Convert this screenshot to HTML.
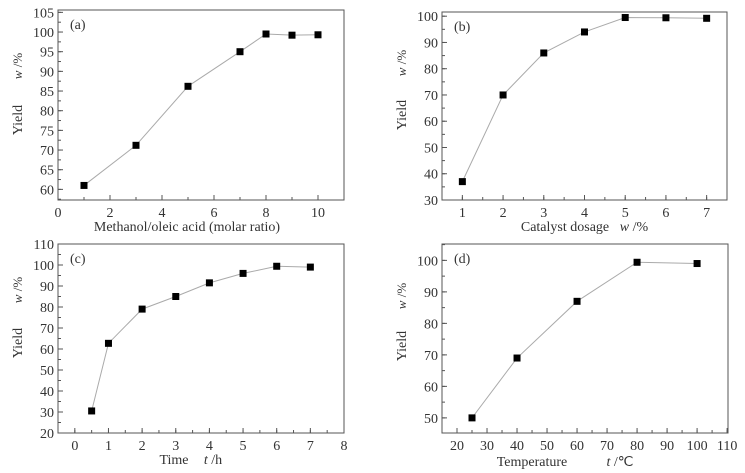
<!DOCTYPE html>
<html><head><meta charset="utf-8"><style>
body{margin:0;background:#fff}
svg{display:block}
text{font-family:"Liberation Serif","Times New Roman",serif}
</style></head><body>
<svg id="c" width="745" height="473" viewBox="0 0 745 473" xmlns="http://www.w3.org/2000/svg"></svg>
<script>
const aX=[1,3,5,7,8,9,10];
const aY=[61,71.2,86.2,95,99.5,99.2,99.3];
const bX=[1,2,3,4,5,6,7];
const bY=[37,70,86,94,99.5,99.4,99.2];
const cX=[0.5,1,2,3,4,5,6,7];
const cY=[30.5,62.7,79,85,91.5,96,99.4,99];
const dX=[25,40,60,80,100];
const dY=[50,69,87,99.4,99];
const aXTicks=[0,2,4,6,8,10], aYTicks=[60,65,70,75,80,85,90,95,100,105];
const bXTicks=[1,2,3,4,5,6,7], bYTicks=[30,40,50,60,70,80,90,100];
const cXTicks=[0,1,2,3,4,5,6,7,8], cYTicks=[20,30,40,50,60,70,80,90,100,110];
const dXTicks=[20,30,40,50,60,70,80,90,100,110], dYTicks=[50,60,70,80,90,100];

const svg=document.getElementById('c');
const NS='http://www.w3.org/2000/svg';
const FF='Liberation Serif, serif';
function mk(tag,attrs,parent){const e=document.createElementNS(NS,tag);for(const k in attrs)e.setAttribute(k,attrs[k]);if(tag==='text')e.setAttribute('font-family',FF);(parent||svg).appendChild(e);return e;}

const panels=[
 {id:'a',L:58,R:344,T:10,B:200,x0:0,x1:11,y0:57.3,y1:105.6,xs:aX,ys:aY,xt:aXTicks,yt:aYTicks,xm:1,ym:2.5,title:'Methanol/oleic acid (molar ratio)',tx:187,ty:231,lbl:'(a)',yl:[17,120],wl:[17,66]},
 {id:'b',L:442,R:727,T:12,B:200,x0:0.5,x1:7.5,y0:30,y1:101.6,xs:bX,ys:bY,xt:bXTicks,yt:bYTicks,xm:0.5,ym:5,title:'Catalyst dosage',tx:565,ty:231,lbl:'(b)',yl:[401,115],wl:[401,63],unit:['w',' /%',634]},
 {id:'c',L:58,R:344,T:244,B:433,x0:-0.5,x1:8,y0:20,y1:110,xs:cX,ys:cY,xt:cXTicks,yt:cYTicks,xm:0.5,ym:5,title:'Time',tx:174,ty:464,lbl:'(c)',yl:[17,343],wl:[17,290],unit:['t',' /h',213]},
 {id:'d',L:442,R:728,T:244,B:433,x0:15,x1:110.3,y0:45.2,y1:105.2,xs:dX,ys:dY,xt:dXTicks,yt:dYTicks,xm:5,ym:5,title:'Temperature',tx:532,ty:466,lbl:'(d)',yl:[401,346],wl:[401,296],unit:['t',' /℃',620]}
];

panels.forEach(p=>{
 const g=mk('g',{});
 
 
 const sx=v=>p.L+(v-p.x0)/(p.x1-p.x0)*(p.R-p.L);
 const sy=v=>p.B-(v-p.y0)/(p.y1-p.y0)*(p.B-p.T);
 const box=mk('rect',{x:p.L,y:p.T,width:p.R-p.L,height:p.B-p.T,fill:'none',stroke:'#555','stroke-width':1},g);
 
 
 for(let v=Math.ceil(p.x0/p.xm)*p.xm; v<=p.x1+1e-9; v+=p.xm){const x=sx(v);mk('line',{x1:x,x2:x,y1:p.B,y2:p.B-3,stroke:'#555'},g);}
 for(let v=Math.ceil(p.y0/p.ym)*p.ym; v<=p.y1+1e-9; v+=p.ym){const y=sy(v);mk('line',{x1:p.L,x2:p.L+3,y1:y,y2:y,stroke:'#555'},g);}
 p.xt.forEach(v=>{const x=sx(v);mk('line',{x1:x,x2:x,y1:p.B,y2:p.B-5,stroke:'#555'},g);
  const t=mk('text',{x:x,y:p.B+17,'text-anchor':'middle','font-size':14,fill:'#333'},g);t.textContent=v;
  
  });
 p.yt.forEach(v=>{const y=sy(v);mk('line',{x1:p.L,x2:p.L+5,y1:y,y2:y,stroke:'#555'},g);
  const t=mk('text',{x:p.L-4,y:y+5,'text-anchor':'end','font-size':14,fill:'#333'},g);t.textContent=v;
  
  });
 const pts=p.xs.map((v,i)=>sx(v)+','+sy(p.ys[i])).join(' ');
 const ln=mk('polyline',{points:pts,fill:'none',stroke:'#aaa','stroke-width':1},g);
 
 
 p.xs.forEach((v,i)=>{const r=mk('rect',{x:sx(v)-3.5,y:sy(p.ys[i])-3.5,width:7,height:7,fill:'#000'},g);
  
  });
 const lb=mk('text',{x:p.L+12,y:p.T+19,'font-size':14,fill:'#333'},g);lb.textContent=p.lbl;
 
 
 const xt=mk('text',{x:p.tx,y:p.ty,'text-anchor':'middle','font-size':14,fill:'#333'},g);xt.textContent=p.title;
 
 
 if(p.unit){const u=mk('text',{x:p.unit[2],y:p.ty,'text-anchor':'middle','font-size':14,fill:'#333'},g);
  const i=mk('tspan',{'font-style':'italic'},u);i.textContent=p.unit[0];
  const s=mk('tspan',{},u);s.textContent=p.unit[1];
  
  }
 const yt=mk('text',{x:0,y:0,'text-anchor':'middle','font-size':14,fill:'#333',transform:`translate(${p.yl[0]+5},${p.yl[1]}) rotate(-90)`},g);yt.textContent='Yield';
 
 
 const wt=mk('text',{x:0,y:0,'text-anchor':'middle','font-size':13,fill:'#333',transform:`translate(${p.wl[0]+5},${p.wl[1]}) rotate(-90)`},g);
 const wi=mk('tspan',{'font-style':'italic'},wt);wi.textContent='w';
 const ws=mk('tspan',{},wt);ws.textContent=' /%';
 
 
});
</script>
</body></html>
